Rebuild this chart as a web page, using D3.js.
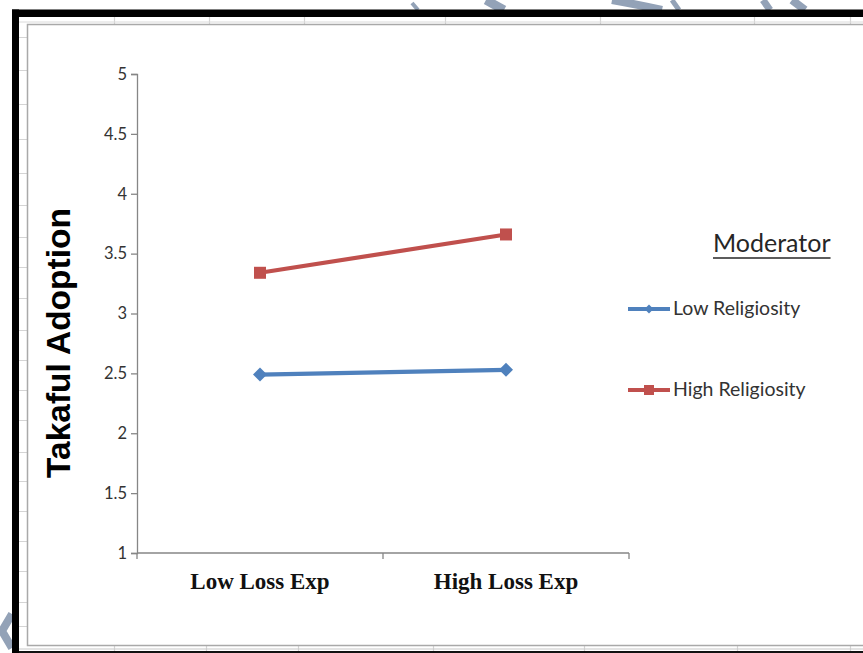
<!DOCTYPE html>
<html><head><meta charset="utf-8">
<script src="https://cdn.jsdelivr.net/npm/d3@7"></script>
<style>body{margin:0;background:#fff}svg{display:block}</style>
</head><body>
<svg id="c" width="863" height="653"></svg>
<script>
// ---- data ----
const categories = ["Low Loss Exp", "High Loss Exp"];
const seriesNames = ["Low Religiosity", "High Religiosity"];
const lowReligiosity = [2.49, 2.53];
const highReligiosity = [3.34, 3.66];
const yTicks = [1, 1.5, 2, 2.5, 3, 3.5, 4, 4.5, 5];
const yTitle = "Takaful Adoption";
const legendTitle = "Moderator";

const series = [
  {name: seriesNames[0], values: lowReligiosity, color: "#4f81bd", marker: "diamond"},
  {name: seriesNames[1], values: highReligiosity, color: "#c0504d", marker: "square"}
];

const svg = d3.select("#c");
const W = 863, H = 653;
svg.append("rect").attr("width", W).attr("height", H).attr("fill", "#fff");

// ---- spreadsheet background (behind chart) ----
const bg = svg.append("g");
const gridC = "#d4d4d4";
const rowLines = [37, 70, 104, 139, 173, 205, 237, 267, 298, 330, 360, 390, 420, 452, 481, 511, 541, 571, 602, 626];
bg.selectAll(".rl").data(rowLines).join("line")
  .attr("x1", 19).attr("x2", 27).attr("y1", d => d + 0.5).attr("y2", d => d + 0.5)
  .attr("stroke", gridC).attr("stroke-width", 1);
const colTop = [114, 209, 304, 445, 600, 754, 850];
bg.selectAll(".ct").data(colTop).join("line")
  .attr("x1", d => d + 0.5).attr("x2", d => d + 0.5).attr("y1", 17).attr("y2", 24)
  .attr("stroke", gridC).attr("stroke-width", 1.2);
const colBot = [114, 206, 298, 433, 584, 737, 850];
bg.selectAll(".cb").data(colBot).join("line")
  .attr("x1", d => d + 0.5).attr("x2", d => d + 0.5).attr("y1", 646).attr("y2", 651)
  .attr("stroke", gridC).attr("stroke-width", 1.2);
bg.append("line").attr("x1", 19).attr("x2", W).attr("y1", 22).attr("y2", 22)
  .attr("stroke", "#dadada").attr("stroke-width", 1);
bg.append("line").attr("x1", 19).attr("x2", W).attr("y1", 649).attr("y2", 649)
  .attr("stroke", "#c8c8c8").attr("stroke-width", 1.2);

// watermark fragments
const wm = svg.append("g").attr("stroke", "#93a2b7").attr("fill", "none")
  .attr("stroke-linecap", "butt");
const wmPaths = [
  {d: "M412,3 L418,10", w: 4},
  {d: "M486,0 L504,10", w: 9},
  {d: "M612,0 Q640,5 662,10", w: 8},
  {d: "M672,0 L679,10", w: 5},
  {d: "M763,0 L770,10", w: 7},
  {d: "M792,0 L805,10", w: 8},
  {d: "M12,614 L2,631 L12,648", w: 8}
];
wm.selectAll("path").data(wmPaths).join("path")
  .attr("d", d => d.d).attr("stroke-width", d => d.w);

// ---- chart area border ----
svg.append("rect").attr("x", 27.5).attr("y", 24.5).attr("width", W)
  .attr("height", 621).attr("fill", "#fff").attr("stroke", "#a9a9a9").attr("stroke-width", 1.5);

// ---- black frame ----
svg.append("rect").attr("x", 12).attr("y", 9.5).attr("width", 7).attr("height", H).attr("fill", "#000");
svg.append("rect").attr("x", 12).attr("y", 9.5).attr("width", W).attr("height", 7.5).attr("fill", "#000");
svg.append("rect").attr("x", 19).attr("y", 651).attr("width", W).attr("height", 2).attr("fill", "#111");

// ---- scales ----
const x = d3.scaleBand().domain(categories).range([137, 629]).paddingInner(0).paddingOuter(0);
const cx = c => x(c) + x.bandwidth() / 2;
const y = d3.scaleLinear().domain([1, 5]).range([553, 74]);
const axisColor = "#868686";

// y axis
const yAxis = svg.append("g").attr("transform", "translate(137,0)")
  .call(d3.axisLeft(y).tickValues(yTicks).tickSize(6).tickPadding(4).tickFormat(d3.format("")));
yAxis.select(".domain").attr("stroke", axisColor).attr("stroke-width", 1.3);
yAxis.selectAll(".tick line").attr("stroke", axisColor).attr("stroke-width", 1.3);
yAxis.selectAll(".tick text").attr("fill", "#333")
  .style("font-family", "Lato, 'Noto Sans', sans-serif").style("font-size", "16.5px");

// x axis
const xAxisG = svg.append("g").attr("transform", "translate(0,553)");
xAxisG.append("line").attr("x1", 137).attr("x2", 629).attr("y1", 0).attr("y2", 0)
  .attr("stroke", axisColor).attr("stroke-width", 1.3);
const boundaries = categories.map(c => x(c)).concat([x.range()[1]]);
xAxisG.selectAll(".bt").data(boundaries).join("line")
  .attr("x1", d => d).attr("x2", d => d).attr("y1", 0).attr("y2", 6)
  .attr("stroke", axisColor).attr("stroke-width", 1.3);
xAxisG.selectAll(".xl").data(categories).join("text")
  .attr("x", d => cx(d)).attr("y", 36).attr("text-anchor", "middle")
  .style("font-family", "'Liberation Serif', 'Times New Roman', serif")
  .style("font-weight", "bold").style("font-size", "23px").attr("fill", "#111")
  .text(d => d);

// y title
svg.append("text").attr("transform", "translate(70,343) rotate(-90)")
  .attr("text-anchor", "middle")
  .style("font-family", "'Liberation Sans', Arial, sans-serif")
  .style("font-weight", "bold").style("font-size", "33.5px").attr("fill", "#000")
  .text(yTitle);

// ---- series ----
const line = d3.line().x((d, i) => cx(categories[i])).y(d => y(d));
function drawMarker(g, type, px, py, s, color) {
  if (type === "square") {
    g.append("rect").attr("x", px - s / 2).attr("y", py - s / 2).attr("width", s).attr("height", s).attr("fill", color);
  } else {
    const h = s / 2 + 1;
    g.append("path").attr("d", `M${px},${py - h}L${px + h},${py}L${px},${py + h}L${px - h},${py}Z`).attr("fill", color);
  }
}
series.forEach(s => {
  const g = svg.append("g");
  g.append("path").attr("d", line(s.values)).attr("fill", "none")
    .attr("stroke", s.color).attr("stroke-width", 4.2);
  s.values.forEach((v, i) => drawMarker(g, s.marker, cx(categories[i]), y(v), 12, s.color));
});

// ---- legend ----
const lg = svg.append("g");
const lt = lg.append("text").attr("x", 713).attr("y", 252)
  .style("font-family", "Lato, 'Noto Sans', sans-serif").style("font-size", "25px")
  .attr("fill", "#262626").text(legendTitle);
const ltw = lt.node().getComputedTextLength();
lg.append("line").attr("x1", 713).attr("x2", 713 + ltw).attr("y1", 258).attr("y2", 258)
  .attr("stroke", "#262626").attr("stroke-width", 1.5);
const legY = [309, 390];
series.forEach((s, i) => {
  const ly = legY[i];
  lg.append("line").attr("x1", 628).attr("x2", 670).attr("y1", ly).attr("y2", ly)
    .attr("stroke", s.color).attr("stroke-width", 4);
  drawMarker(lg, s.marker, 649, ly, s.marker === "square" ? 10 : 7, s.color);
  lg.append("text").attr("x", 673).attr("y", ly + 6)
    .style("font-family", "Lato, 'Noto Sans', sans-serif").style("font-size", "19.5px")
    .attr("fill", "#333").text(s.name);
});
</script>
</body></html>
